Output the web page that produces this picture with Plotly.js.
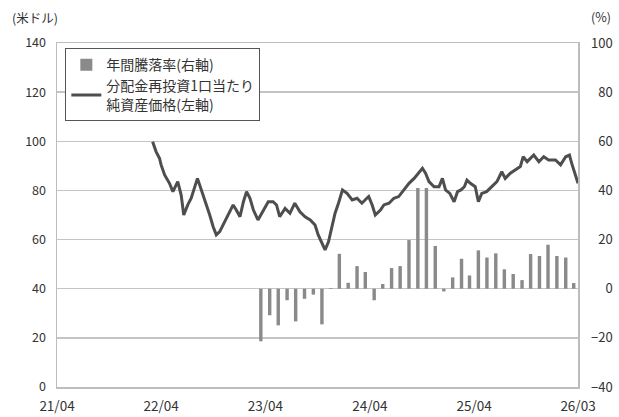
<!DOCTYPE html>
<html>
<head>
<meta charset="utf-8">
<script src="https://cdn.plot.ly/plotly-3.0.1.min.js"></script>
<style>html,body{margin:0;padding:0;background:#fff;}#chart{width:619px;height:417px;}</style>
</head>
<body>
<div id="chart"></div>
<script>
// NAV per unit with distributions reinvested (left axis, USD)
const navDates = ["2022-03-02","2022-03-14","2022-03-26","2022-04-01","2022-04-13","2022-04-30","2022-05-12","2022-05-29","2022-06-10","2022-06-19","2022-07-03","2022-07-15","2022-08-06","2022-08-14","2022-09-01","2022-09-18","2022-09-30","2022-10-11","2022-10-23","2022-11-04","2022-11-21","2022-12-09","2022-12-20","2023-01-02","2023-01-14","2023-01-25","2023-02-06","2023-02-18","2023-03-06","2023-03-24","2023-04-11","2023-04-28","2023-05-10","2023-05-21","2023-06-09","2023-06-26","2023-07-13","2023-07-31","2023-08-18","2023-09-05","2023-09-22","2023-10-03","2023-10-15","2023-10-27","2023-11-08","2023-11-20","2023-12-01","2023-12-13","2023-12-27","2024-01-12","2024-01-30","2024-02-16","2024-03-04","2024-03-21","2024-03-28","2024-04-09","2024-04-20","2024-05-08","2024-05-20","2024-06-07","2024-06-24","2024-07-11","2024-07-29","2024-08-16","2024-09-03","2024-09-20","2024-10-02","2024-10-13","2024-10-25","2024-11-12","2024-11-29","2024-12-11","2024-12-22","2025-01-06","2025-01-21","2025-02-02","2025-02-14","2025-02-26","2025-03-07","2025-03-19","2025-04-05","2025-04-16","2025-04-28","2025-05-15","2025-06-03","2025-06-20","2025-07-07","2025-07-19","2025-08-06","2025-08-23","2025-09-10","2025-09-20","2025-10-04","2025-10-27","2025-11-14","2025-12-01","2025-12-18","2026-01-11","2026-01-29","2026-02-16","2026-03-01","2026-03-09","2026-03-20","2026-03-31"];
const navValues = [99.8,95.8,93.1,90.3,86.3,82.9,79.5,83.6,78.1,70.0,74.1,76.8,84.9,82.2,75.4,70.0,65.2,61.9,63.2,65.9,70.0,74.1,72.0,69.3,75.4,79.5,76.8,72.0,68.0,72.0,75.4,75.4,74.1,69.3,72.7,70.7,74.8,71.3,69.3,68.0,65.9,61.9,59.1,55.8,59.1,65.2,70.7,74.8,80.2,78.8,76.1,76.8,74.8,76.8,77.5,74.1,70.0,72.0,74.1,74.8,76.8,77.5,80.2,82.9,84.9,87.6,89.0,87.0,83.6,81.5,81.5,84.9,80.2,78.8,75.4,79.5,80.2,81.5,84.2,82.9,81.5,75.4,78.8,79.5,81.5,83.6,87.6,84.9,87.0,88.3,89.7,93.7,91.7,94.4,91.7,93.7,92.4,92.4,90.4,93.7,94.4,91.0,87.0,82.9];

// Annual return (right axis, %)
const retDates = ["2023-03-16","2023-04-16","2023-05-16","2023-06-16","2023-07-16","2023-08-16","2023-09-16","2023-10-16","2023-11-16","2023-12-16","2024-01-16","2024-02-16","2024-03-16","2024-04-16","2024-05-16","2024-06-16","2024-07-16","2024-08-16","2024-09-16","2024-10-16","2024-11-16","2024-12-16","2025-01-16","2025-02-16","2025-03-16","2025-04-16","2025-05-16","2025-06-16","2025-07-16","2025-08-16","2025-09-16","2025-10-16","2025-11-16","2025-12-16","2026-01-16","2026-02-16","2026-03-16"];
const retValues = [-21.4,-10.8,-14.9,-4.7,-13.3,-4.1,-2.4,-14.5,0.3,14.2,2.4,9.2,6.8,-4.7,1.9,8.4,9.2,19.8,41.0,41.0,17.4,-1.1,4.6,12.2,5.4,15.6,12.7,14.4,7.9,6.0,3.5,14.1,13.3,17.9,13.3,12.7,2.3];

const tickVals = ["2021-04-01","2022-04-01","2023-04-01","2024-04-01","2025-04-01","2026-03-31"];
const tickText = ["21/04","22/04","23/04","24/04","25/04","26/03"];

const leftTicks = [0,20,40,60,80,100,120,140];
const rightTicks = [-40,-20,0,20,40,60,80,100];
// right-aligned labels (figure-space padding)
const rightTickText = ["\u221240","\u221220","\u2007\u20070","\u200720","\u200740","\u200760","\u200780","100"];

const seriesNames = ["年間騰落率(右軸)", "分配金再投資1口当たり<br>純資産価格(左軸)"];

const FONT = "Noto Sans CJK JP, Noto Sans, sans-serif";

const traces = [
  {
    type: "bar", x: retDates, y: retValues, name: seriesNames[0],
    yaxis: "y", marker: {color: "#8a8a8a", line: {width: 0}},
    width: 12*86400000
  },
  {
    type: "scatter", mode: "lines", x: navDates, y: navValues, name: seriesNames[1],
    yaxis: "y2", line: {color: "#4e4e4e", width: 3}
  }
];

const layout = {
  width: 619, height: 417,
  margin: {l: 57, r: 41, t: 43, b: 30},
  paper_bgcolor: "#fff", plot_bgcolor: "#fff",
  font: {family: FONT, size: 13, color: "#333"},
  showlegend: true,
  legend: {
    x: 0.016, y: 0.985, xanchor: "left", yanchor: "top",
    bgcolor: "#fff", bordercolor: "#555", borderwidth: 1,
    font: {family: FONT, size: 14, color: "#333"},
    tracegroupgap: 0, itemwidth: 30
  },
  xaxis: {
    type: "date", range: ["2021-04-01", "2026-03-31"],
    tickmode: "array", tickvals: tickVals, ticktext: tickText,
    showgrid: false, showline: true, linecolor: "#bdbdbd", linewidth: 1.5, mirror: true,
    ticks: "", tickfont: {size: 13.5, color: "#333"}, zeroline: false, ticklabelstandoff: 6
  },
  yaxis: {
    side: "right", range: [-40, 100], tickmode: "array", tickvals: rightTicks, ticktext: rightTickText,
    showgrid: false, zeroline: false, showline: true, linecolor: "#bdbdbd", linewidth: 1.5,
    ticks: "", tickfont: {size: 13, color: "#333"}, ticklabelstandoff: 9
  },
  yaxis2: {
    side: "left", overlaying: "y", range: [0, 140], tickmode: "array", tickvals: leftTicks,
    showgrid: true, gridcolor: "#c4c4c4", gridwidth: 1.3, zeroline: false,
    showline: true, linecolor: "#bdbdbd", linewidth: 1.5,
    ticks: "", tickfont: {size: 12.5, color: "#333"}, ticklabelstandoff: 7
  },
  annotations: [
    {text: "(米ドル)", xref: "paper", yref: "paper", x: -0.091, y: 1.073, xanchor: "left", yanchor: "middle", showarrow: false, font: {size: 12.5, color: "#333"}},
    {text: "(%)", xref: "paper", yref: "paper", x: 1.022, y: 1.076, xanchor: "left", yanchor: "middle", showarrow: false, font: {size: 12.5, color: "#333"}}
  ]
};

Plotly.newPlot("chart", traces, layout, {displayModeBar: false, staticPlot: true});
</script>
</body>
</html>
